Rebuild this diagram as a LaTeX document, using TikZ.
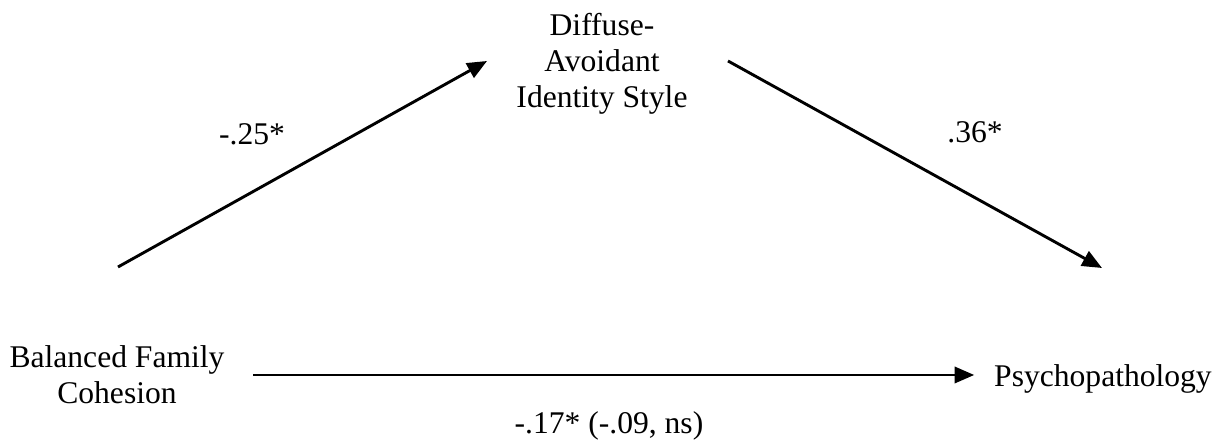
\documentclass[tikz,border=0pt]{standalone}
\usepackage{fontspec}
\setmainfont{Liberation Serif}
\usepackage{tikz}
\usetikzlibrary{
  arrows.meta,
  calc,
  positioning
}
\tikzset{>={Triangle[length=7.5pt,width=6.2pt]}}
\tikzset{
  var/.style={align=center,inner sep=0pt,font=\fontsize{12}{13.7}\selectfont},
  coef/.style={inner sep=0pt,anchor=base,font=\fontsize{12}{13.7}\selectfont},
  effect/.style={->,line width=1.1pt}
}

\begin{document}
\begin{tikzpicture}[x=0.38pt,y=-0.38pt]
		% picture measured in pixels, y downwards
			\useasboundingbox (0,0) rectangle (1225,442);
			\node[var] (das) at (602,64) {Diffuse-\\Avoidant\\Identity Style};
			\node[var] (fam) at (117,375) {Balanced Family\\Cohesion};
			\node[var,anchor=base] (psy) at (1103,387) {Psychopathology};
			\coordinate (famtop) at (118,267);
			\coordinate (dasin) at (487,61);
			\coordinate (dasout) at (728,61);
			\coordinate (psytop) at (1102,268);
			\draw[effect] (famtop) -- (dasin);
			\draw[effect] (dasout) -- (psytop);
			\draw[effect,shorten <=10.8pt,shorten >=7.4pt] (fam.east) -- (fam.east -| psy.west);
			\node[coef] (a) at (252,145) {-.25*};
			\node[coef] (b) at (975,143) {.36*};
			\node[coef] (c) at (609,434) {-.17* (-.09, ns)};
		\end{tikzpicture}
\end{document}
